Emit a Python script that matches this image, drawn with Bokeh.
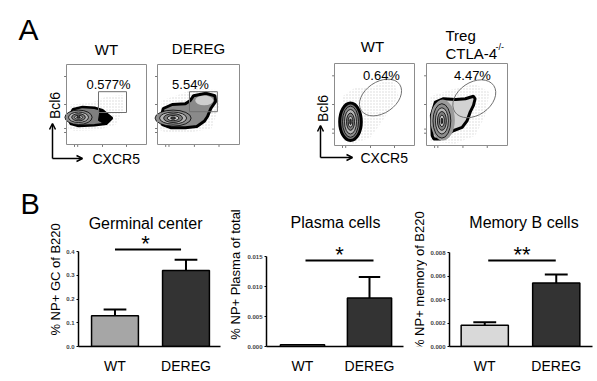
import math
from bokeh.plotting import figure
from bokeh.layouts import column, row
from bokeh.models import Range1d, FixedTicker, Label, Arrow, OpenHead
from bokeh.core.properties import value
from bokeh.embed import file_html
from bokeh.resources import INLINE

FONT = "Liberation Sans"

# ---------------- bar chart data (panel B) ----------------
categories = ["WT", "DEREG"]
gc_mean = [0.13, 0.32]
gc_err = [0.026, 0.045]
plasma_mean = [0.0003, 0.0081]
plasma_err = [0.0, 0.0035]
memory_mean = [0.0018, 0.0054]
memory_err = [0.00027, 0.00072]
gc_ticks = [0.0, 0.1, 0.2, 0.3, 0.4]
gc_tick_labels = ["0.0", "0.1", "0.2", "0.3", "0.4"]
plasma_ticks = [0.0, 0.005, 0.010, 0.015]
plasma_tick_labels = ["0.000", "0.005", "0.010", "0.015"]
memory_ticks = [0.0, 0.002, 0.004, 0.006, 0.008]
memory_tick_labels = ["0.000", "0.002", "0.004", "0.006", "0.008"]
chart_titles = ["Germinal center", "Plasma cells", "Memory B cells"]
y_titles = ["% NP+ GC of B220", "% NP+ Plasma of total", "% NP+ memory  of B220"]
significance = ["*", "*", "**"]

# ---------------- flow plots (panel A), normalised fluorescence units ----------------
flow_titles = ["WT", "DEREG", "WT", "Treg"]
gate_percent = ["0.577%", "5.54%", "0.64%", "4.47%"]
rect_gates = [[0.40, 0.75, 0.40, 0.66], [0.39, 0.73, 0.41, 0.66]]
ellipse_gates = [[0.575, 0.585, 0.58, 0.38, 0.6], [0.59, 0.57, 0.58, 0.40, 0.6]]

cloud1_x = [0.02, 0.05, 0.30, 0.50, 0.70, 0.72, 0.62, 0.40, 0.10]
cloud1_y = [0.20, 0.50, 0.52, 0.60, 0.62, 0.45, 0.25, 0.18, 0.17]
cloud2_x = [0.03, 0.05, 0.25, 0.45, 0.72, 0.76, 0.66, 0.40, 0.10]
cloud2_y = [0.18, 0.55, 0.62, 0.70, 0.68, 0.50, 0.20, 0.15, 0.15]
cloud3_x = [0.12, 0.10, 0.25, 0.50, 0.72, 0.80, 0.60, 0.45, 0.25]
cloud3_y = [0.05, 0.60, 0.70, 0.72, 0.85, 0.60, 0.30, 0.10, 0.02]
cloud4_x = [0.05, 0.05, 0.30, 0.60, 0.78, 0.72, 0.60, 0.35]
cloud4_y = [0.05, 0.60, 0.68, 0.75, 0.65, 0.35, 0.12, 0.02]

outer1_x = [0.03, 0.08, 0.20, 0.35, 0.45, 0.57, 0.50, 0.35, 0.15, 0.05]
outer1_y = [0.34, 0.44, 0.47, 0.46, 0.43, 0.33, 0.26, 0.24, 0.23, 0.26]
tail1_x = [0.42, 0.57, 0.47, 0.40]
tail1_y = [0.44, 0.33, 0.26, 0.30]
outer2_x = [0.04, 0.07, 0.18, 0.34, 0.40, 0.44, 0.59, 0.70, 0.71, 0.65, 0.61, 0.57, 0.48, 0.34, 0.16, 0.06]
outer2_y = [0.325, 0.45, 0.50, 0.51, 0.55, 0.61, 0.64, 0.61, 0.54, 0.45, 0.35, 0.29, 0.225, 0.21, 0.21, 0.25]
lobe2 = [0.57, 0.55, 0.22, 0.12]
outer3 = [0.20, 0.29, 0.27, 0.46]
outer4_x = [0.07, 0.06, 0.11, 0.21, 0.36, 0.48, 0.58, 0.60, 0.58, 0.54, 0.50, 0.44, 0.33, 0.23, 0.17, 0.09]
outer4_y = [0.12, 0.37, 0.53, 0.57, 0.56, 0.57, 0.60, 0.57, 0.49, 0.41, 0.30, 0.22, 0.18, 0.12, 0.08, 0.08]
body4 = [0.20, 0.31, 0.30, 0.50]

rings1 = [[0.15, 0.34, 0.34, 0.18], [0.15, 0.34, 0.25, 0.13], [0.15, 0.34, 0.17, 0.09], [0.15, 0.34, 0.10, 0.05], [0.15, 0.34, 0.045, 0.022]]
rings2 = [[0.19, 0.33, 0.44, 0.20], [0.19, 0.33, 0.33, 0.15], [0.19, 0.33, 0.23, 0.11], [0.19, 0.33, 0.14, 0.065], [0.19, 0.33, 0.06, 0.03]]
rings3 = [[0.20, 0.29, 0.20, 0.38], [0.20, 0.29, 0.15, 0.30], [0.20, 0.29, 0.10, 0.21], [0.20, 0.29, 0.055, 0.13], [0.20, 0.29, 0.02, 0.07]]
rings4 = [[0.19, 0.30, 0.22, 0.42], [0.19, 0.30, 0.16, 0.32], [0.19, 0.30, 0.11, 0.23], [0.19, 0.30, 0.06, 0.14], [0.19, 0.30, 0.02, 0.07]]
ring_colors = ["#8d8d8d", "#b5b5b5", "#7d7d7d", "#c9c9c9", "#444444"]
flow_ticks_x = [0.10, 0.14, 0.45, 0.75]
flow_ticks_y = [0.15, 0.20, 0.50, 0.85]

# ---------------- layout (page pixels, page has no margin) ----------------
W, H = 597, 381
A_BOTTOM = 188
ZERO_PX = 346

flow_boxes = [(66, 146, 144, 64), (157, 239, 144, 64), (334, 414, 145, 63), (426, 507, 145, 63)]


def canvas(x0, x1, y0, y1):
    c = figure(width=x1 - x0, height=y1 - y0, x_range=Range1d(x0, x1), y_range=Range1d(y1, y0),
               x_axis_location=None, y_axis_location=None, min_border=0,
               toolbar_location=None, output_backend="svg")
    c.grid.visible = False
    c.outline_line_color = None
    return c


def txt(p, x, y, t, size, align="center", angle=0.0):
    p.text(x=[x], y=[y], text=[t], angle=angle, text_font=value(FONT), text_font_size=size,
           text_align=align, text_baseline="middle", text_color="black")


pA = canvas(0, W, 0, A_BOTTOM)


def sub_of(box):
    l, r, b, t = box
    return pA.subplot(x_source=Range1d(0, 1), y_source=Range1d(0, 1),
                      x_target=Range1d(l, r), y_target=Range1d(b, t))


def draw_rings(s, rings):
    s.ellipse(x=[r[0] for r in rings], y=[r[1] for r in rings],
              width=[r[2] for r in rings], height=[r[3] for r in rings],
              fill_color=ring_colors[:len(rings)], line_color="black", line_width=0.8)


def frame_and_ticks(s):
    s.segment(x0=[-0.03] * len(flow_ticks_y), x1=[0] * len(flow_ticks_y), y0=flow_ticks_y, y1=flow_ticks_y,
              line_color="#777777", line_width=1)
    s.segment(x0=flow_ticks_x, x1=flow_ticks_x, y0=[-0.03] * len(flow_ticks_x), y1=[0] * len(flow_ticks_x),
              line_color="#777777", line_width=1)
    s.quad(left=[0], right=[1], bottom=[0], top=[1], fill_alpha=0, line_color="#8c8c8c", line_width=1)


def cloud(s, xs, ys):
    s.patch(xs, ys, fill_alpha=0, line_alpha=0, hatch_pattern="dot", hatch_color="#9a9a9a",
            hatch_scale=3, hatch_weight=0.5, hatch_alpha=0.4)


# plot 1
s1 = sub_of(flow_boxes[0])
cloud(s1, cloud1_x, cloud1_y)
s1.patch(outer1_x, outer1_y, fill_color="#7f7f7f", line_color="black", line_width=2.5)
s1.patch(tail1_x, tail1_y, fill_color="black", line_color="black")
draw_rings(s1, rings1)
g = rect_gates[0]
s1.quad(left=[g[0]], right=[g[1]], bottom=[g[2]], top=[g[3]], fill_alpha=0, line_color="#707070", line_width=1)
frame_and_ticks(s1)

# plot 2
s2 = sub_of(flow_boxes[1])
cloud(s2, cloud2_x, cloud2_y)
s2.patch(outer2_x, outer2_y, fill_color="#8a8a8a", line_color="black", line_width=3)
s2.ellipse(x=[lobe2[0]], y=[lobe2[1]], width=[lobe2[2]], height=[lobe2[3]], fill_color="#cfcfcf", line_alpha=0)
draw_rings(s2, rings2)
g = rect_gates[1]
s2.quad(left=[g[0]], right=[g[1]], bottom=[g[2]], top=[g[3]], fill_alpha=0, line_color="#707070", line_width=1)
frame_and_ticks(s2)

# plot 3
s3 = sub_of(flow_boxes[2])
cloud(s3, cloud3_x, cloud3_y)
s3.ellipse(x=[outer3[0]], y=[outer3[1]], width=[outer3[2]], height=[outer3[3]],
           fill_color="#777777", line_color="black", line_width=3)
draw_rings(s3, rings3)
e = ellipse_gates[0]
s3.ellipse(x=[e[0]], y=[e[1]], width=[e[2]], height=[e[3]], angle=[e[4]],
           fill_alpha=0, line_color="#707070", line_width=1)
frame_and_ticks(s3)

# plot 4
s4 = sub_of(flow_boxes[3])
cloud(s4, cloud4_x, cloud4_y)
s4.patch(outer4_x, outer4_y, fill_color="#d2d2d2", line_color="black", line_width=3)
s4.ellipse(x=[body4[0]], y=[body4[1]], width=[body4[2]], height=[body4[3]], fill_color="#9a9a9a", line_alpha=0)
draw_rings(s4, rings4)
e = ellipse_gates[1]
s4.ellipse(x=[e[0]], y=[e[1]], width=[e[2]], height=[e[3]], angle=[e[4]],
           fill_alpha=0, line_color="#707070", line_width=1)
frame_and_ticks(s4)

# texts positioned by their visual middle
txt(pA, 18, 29, "A", "30px", align="left")
txt(pA, 106, 49, flow_titles[0], "15px")
txt(pA, 198, 47.5, flow_titles[1], "15px")
txt(pA, 372, 46, flow_titles[2], "15px")
txt(pA, 445, 35, flow_titles[3], "15px", align="left")
txt(pA, 445, 52.5, "CTLA-4", "15px", align="left")
txt(pA, 495, 46, "-/-", "9px", align="left")
txt(pA, 108, 83.5, gate_percent[0], "13px")
txt(pA, 190, 83.5, gate_percent[1], "13px")
txt(pA, 381, 74.5, gate_percent[2], "13px")
txt(pA, 472, 74.5, gate_percent[3], "13px")
txt(pA, 92, 158.5, "CXCR5", "14px", align="left")
txt(pA, 360, 157.5, "CXCR5", "14px", align="left")
txt(pA, 54, 105, "Bcl6", "14px", angle=math.pi / 2)
txt(pA, 322, 108, "Bcl6", "14px", angle=math.pi / 2)

for (ax, ay0, ay1, bx1, by) in [(52, 158, 123, 82, 158), (320, 157, 125, 352, 157)]:
    pA.add_layout(Arrow(end=OpenHead(size=6, line_width=1.5), x_start=ax, y_start=ay0, x_end=ax, y_end=ay1,
                        line_width=1.5, line_color="black"))
    pA.add_layout(Arrow(end=OpenHead(size=6, line_width=1.5), x_start=ax, y_start=by, x_end=bx1, y_end=by,
                        line_width=1.5, line_color="black"))

# ---------------- panel B ----------------
geoms = [
    dict(strip=(0, 63), fig=(63, 226), frame=(76, 220), x1=113, sp=72, top_px=251, title=(144, 223),
         ytitle=(54.5, 299), sig_y=249, sig_x=(113, 180), star_x=144),
    dict(strip=(226, 244), fig=(244, 408), frame=(266, 403), x1=302, sp=67, top_px=256, title=(335, 222),
         ytitle=(235, 293), sig_y=260, sig_x=(305, 373), star_x=339),
    dict(strip=(408, 427), fig=(427, 597), frame=(448, 592), x1=483.5, sp=72, top_px=252, title=(523, 222),
         ytitle=(419, 299), sig_y=260, sig_x=(487, 555), star_x=521),
]
series = [(gc_mean, gc_err, gc_ticks, gc_tick_labels, "#a6a6a6"),
          (plasma_mean, plasma_err, plasma_ticks, plasma_tick_labels, "#d4d4d4"),
          (memory_mean, memory_err, memory_ticks, memory_tick_labels, "#d9d9d9")]

brow = []
for i, (gm, (means, errs, ticks, tlabels, wt_color)) in enumerate(zip(geoms, series)):
    # text strip holding the rotated y title (and panel letter)
    st = canvas(gm["strip"][0], gm["strip"][1], A_BOTTOM, H)
    txt(st, gm["ytitle"][0], gm["ytitle"][1], y_titles[i], "13px", angle=math.pi / 2)
    if i == 0:
        txt(st, 20, 207.5, "B", "29px", align="left")
    brow.append(st)

    fl, fr = gm["fig"]
    frl, frr = gm["frame"]
    x1, sp = gm["x1"], gm["sp"]
    upp = ticks[-1] / (ZERO_PX - gm["top_px"])

    def xs(px):
        return 1 + (px - x1) / sp

    def ys(py):
        return (ZERO_PX - py) * upp

    p = figure(width=fr - fl, height=H - A_BOTTOM,
               x_range=Range1d(xs(frl), xs(frr)), y_range=Range1d(0, ys(A_BOTTOM)),
               min_border_left=frl - fl, min_border_right=fr - frr,
               min_border_top=0, min_border_bottom=H - ZERO_PX,
               toolbar_location=None, output_backend="svg")
    p.grid.visible = False
    p.outline_line_color = None

    xpos = [k + 1 for k in range(len(categories))]
    p.vbar(x=xpos, top=means, width=0.66, fill_color=[wt_color, "#333333"],
           line_color="black", line_width=1.5)
    ex = [x for x, e in zip(xpos, errs) if e > 0]
    em = [m for m, e in zip(means, errs) if e > 0]
    et = [m + e for m, e in zip(means, errs) if e > 0]
    p.segment(x0=ex, x1=ex, y0=em, y1=et, line_color="black", line_width=2)
    p.segment(x0=[x - 0.16 for x in ex], x1=[x + 0.16 for x in ex], y0=et, y1=et,
              line_color="black", line_width=2)

    # significance bar
    p.segment(x0=[xs(gm["sig_x"][0])], x1=[xs(gm["sig_x"][1])], y0=[ys(gm["sig_y"])], y1=[ys(gm["sig_y"])],
              line_color="black", line_width=2)
    p.add_layout(Label(x=xs(gm["star_x"]), y=ys(gm["sig_y"] - 6), text=significance[i],
                       text_font=FONT, text_font_size="22px", text_align="center",
                       text_baseline="alphabetic", text_color="black"))
    p.add_layout(Label(x=xs(gm["title"][0]), y=ys(gm["title"][1]), text=chart_titles[i],
                       text_font=FONT, text_font_size="16px", text_align="center", text_baseline="middle",
                       text_color="black"))

    xa = p.xaxis[0]
    xa.ticker = FixedTicker(ticks=xpos)
    xa.major_label_overrides = {x: c for x, c in zip(xpos, categories)}
    xa.major_tick_line_color = None
    xa.minor_tick_line_color = None
    xa.axis_line_width = 1.5
    xa.axis_line_color = "black"
    xa.major_label_text_font = FONT
    xa.major_label_text_font_size = "14px"
    xa.major_label_text_color = "black"
    xa.major_label_standoff = 5

    ya = p.yaxis[0]
    ya.ticker = FixedTicker(ticks=ticks)
    ya.major_label_overrides = {t: l for t, l in zip(ticks, tlabels)}
    ya.bounds = (0, ticks[-1])
    ya.major_tick_out = 2
    ya.major_tick_in = 0
    ya.major_tick_line_width = 1
    ya.minor_tick_line_color = None
    ya.axis_line_width = 1.5
    ya.axis_line_color = "black"
    ya.major_label_text_font = FONT
    ya.major_label_text_font_size = "6px"
    ya.major_label_text_font_style = "bold"
    ya.major_label_text_color = "#444444"
    ya.major_label_standoff = 2
    brow.append(p)

layout = column(pA, row(*brow))
open("out.html", "w").write(file_html(layout, INLINE))
